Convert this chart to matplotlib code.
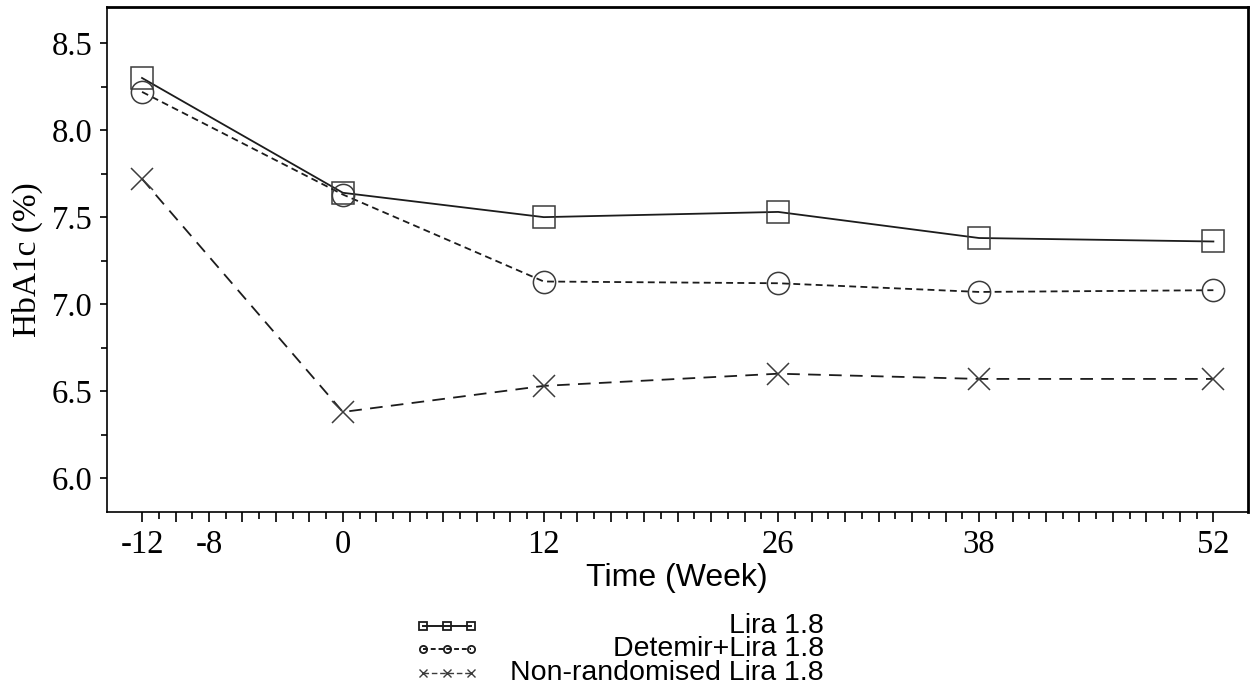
import matplotlib
matplotlib.use("Agg")
import matplotlib.pyplot as plt
from matplotlib.lines import Line2D
from matplotlib.ticker import FixedLocator, MultipleLocator, FixedFormatter

# ---- data ----
weeks = [-12, 0, 12, 26, 38, 52]
lira = [8.30, 7.64, 7.50, 7.53, 7.38, 7.36]
detemir_lira = [8.22, 7.63, 7.13, 7.12, 7.07, 7.08]
nonrand_lira = [7.72, 6.38, 6.53, 6.60, 6.57, 6.57]
series_names = ["Lira 1.8", "Detemir+Lira 1.8", "Non-randomised Lira 1.8"]
xtick_labels = [-12, -8, 0, 12, 26, 38, 52]
ytick_values = [6.0, 6.5, 7.0, 7.5, 8.0, 8.5]

SERIF = "Liberation Serif"
SANS = "Liberation Sans"
LINE_C = "#1c1c1c"
MARK_C = "#3c3c3c"

fig = plt.figure(figsize=(12.5, 6.93), dpi=100)
ax = fig.add_axes([106.7 / 1250, 1 - 512 / 693, (1247.7 - 106.7) / 1250, (512 - 7) / 693])

styles = [
    dict(marker="s", linestyle="-"),
    dict(marker="o", linestyle=(0, (3.8, 2.4))),
    dict(marker="x", linestyle=(0, (7.0, 4.6))),
]
for vals, st in zip([lira, detemir_lira, nonrand_lira], styles):
    ax.plot(weeks, vals, color=LINE_C, lw=1.3, linestyle=st["linestyle"],
            marker=st["marker"], markersize=16, markerfacecolor="none",
            markeredgecolor=MARK_C, markeredgewidth=1.1)

ax.set_xlim(-14.11, 54.05)
ax.set_ylim(5.805, 8.708)

# x ticks: major every 2 weeks (labelled at selected weeks), minor every week
major_x = list(range(-12, 53, 2))
ax.xaxis.set_major_locator(FixedLocator(major_x))
ax.xaxis.set_major_formatter(FixedFormatter([str(v) if v in xtick_labels else "" for v in major_x]))
ax.xaxis.set_minor_locator(FixedLocator(list(range(-11, 52, 2))))
ax.yaxis.set_major_locator(FixedLocator(ytick_values))
ax.yaxis.set_major_formatter(FixedFormatter([f"{v:.1f}" for v in ytick_values]))
ax.yaxis.set_minor_locator(MultipleLocator(0.25))

ax.tick_params(axis="x", which="major", direction="out", length=7.5, width=1.2, pad=5,
               labelsize=23.5)
ax.tick_params(axis="x", which="minor", direction="out", length=5, width=1.2)
ax.tick_params(axis="y", which="major", direction="out", length=5, width=1.2, pad=5,
               labelsize=23.5)
ax.tick_params(axis="y", which="minor", direction="out", length=4, width=1.2)
for lab in ax.get_xticklabels() + ax.get_yticklabels():
    lab.set_fontfamily(SERIF)

for side in ["left", "bottom"]:
    ax.spines[side].set_linewidth(1.2)
for side in ["top", "right"]:
    ax.spines[side].set_linewidth(2.0)

ax.set_xlabel("Time (Week)", fontfamily=SANS, fontsize=23, labelpad=2)
ax.set_ylabel("HbA1c (%)", fontfamily=SERIF, fontsize=24)
ax.yaxis.set_label_coords(-0.056, 0.5)

# ---- legend: handles via legend, labels right-aligned text ----
handles = [
    Line2D([], [], color=LINE_C, lw=1.4, linestyle="-", marker="s", markersize=5.2,
           markerfacecolor="none", markeredgecolor=LINE_C, markeredgewidth=1.3),
    Line2D([], [], color=LINE_C, lw=1.4, linestyle=(0, (2.5, 1.5)), marker="o", markersize=5.2,
           markerfacecolor="none", markeredgecolor=LINE_C, markeredgewidth=1.3),
    Line2D([], [], color=MARK_C, lw=1.0, linestyle=(0, (4, 2)), marker="x", markersize=6,
           markerfacecolor="none", markeredgecolor=MARK_C, markeredgewidth=1.0),
]
leg = fig.legend(handles, ["", "", ""], loc="center left",
                 bbox_to_anchor=(418 / 1250, 1 - 650 / 693), frameon=False,
                 numpoints=3, fontsize=12, handlelength=3.5, handletextpad=0,
                 borderpad=0, borderaxespad=0, labelspacing=0.32)

fig.canvas.draw()
inv = fig.transFigure.inverted()
for h, name in zip(leg.legend_handles, series_names):
    xd, yd = h.get_xdata(), h.get_ydata()
    disp = h.get_transform().transform((xd[0], yd[0]))
    fy = inv.transform(disp)[1]
    fig.text(824 / 1250, fy, name, ha="right", va="center", fontfamily=SANS, fontsize=20.5)

fig.savefig("out.png", dpi=100)
